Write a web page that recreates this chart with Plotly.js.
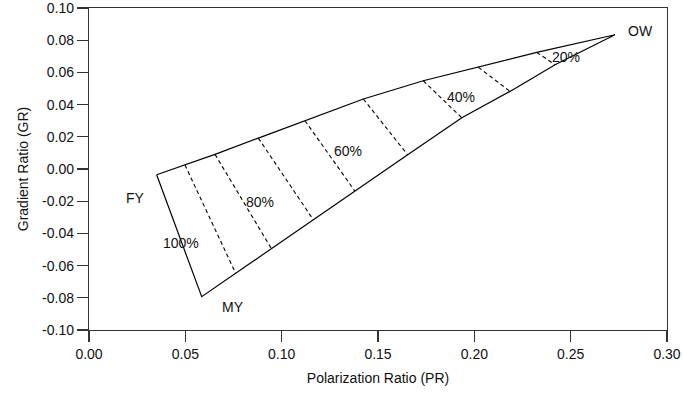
<!DOCTYPE html>
<html>
<head>
<meta charset="utf-8">
<script src="https://cdn.plot.ly/plotly-3.0.1.min.js"></script>
<style>html,body{margin:0;padding:0;background:#fff;}#chart{width:683px;height:396px;}</style>
</head>
<body>
<div id="chart"></div>
<script>
// Vertices
const vertexNames = ['FY', 'MY', 'OW'];
const vertexX = [0.0351, 0.0585, 0.2730];
const vertexY = [-0.0036, -0.0793, 0.0834];

// Mixing lines (90% .. 20%): upper and lower end points
const mixPct = [90, 80, 70, 60, 50, 40, 30, 20];
const mixTopX = [0.0498, 0.0654, 0.0879, 0.1121, 0.1424, 0.1735, 0.2021, 0.2324];
const mixTopY = [0.0025, 0.0091, 0.0192, 0.0300, 0.0435, 0.0548, 0.0632, 0.0724];
const mixBotX = [0.0761, 0.0946, 0.1164, 0.1380, 0.1654, 0.1935, 0.2185, 0.2419];
const mixBotY = [-0.0647, -0.0493, -0.0315, -0.0137, 0.0088, 0.0318, 0.0482, 0.0648];

// Text labels
const labelText = ['FY', 'MY', 'OW', '100%', '80%', '60%', '40%', '20%'];
const labelX = [0.0239, 0.0747, 0.2862, 0.0477, 0.0888, 0.1344, 0.1930, 0.2476];
const labelY = [-0.0181, -0.0855, 0.0855, -0.0457, -0.0202, 0.0109, 0.0447, 0.0696];

// Axis ticks
const xTickVals = [0, 0.05, 0.10, 0.15, 0.20, 0.25, 0.30];
const xTickText = ['0.00', '0.05', '0.10', '0.15', '0.20', '0.25', '0.30'];
const yTickVals = [-0.10, -0.08, -0.06, -0.04, -0.02, 0, 0.02, 0.04, 0.06, 0.08, 0.10];
const yTickText = ['-0.10', '-0.08', '-0.06', '-0.04', '-0.02', '0.00', '0.02', '0.04', '0.06', '0.08', '0.10'];

// Boundary: FY -> upper edge -> OW -> lower edge -> MY -> FY
const bx = [vertexX[0]].concat(mixTopX, [vertexX[2]], mixBotX.slice().reverse(), [vertexX[1], vertexX[0]]);
const by = [vertexY[0]].concat(mixTopY, [vertexY[2]], mixBotY.slice().reverse(), [vertexY[1], vertexY[0]]);

const traces = [{
  x: bx, y: by, mode: 'lines', type: 'scatter',
  line: {color: '#000', width: 1.2}, hoverinfo: 'skip', showlegend: false
}];
for (let i = 0; i < mixPct.length; i++) {
  traces.push({
    x: [mixTopX[i], mixBotX[i]], y: [mixTopY[i], mixBotY[i]],
    mode: 'lines', type: 'scatter', name: mixPct[i] + '%',
    line: {color: '#000', width: 1.1, dash: '4px,3px'}, showlegend: false
  });
}

const fam = '"Liberation Sans", Arial, Helvetica, sans-serif';
const font = {family: fam, size: 14, color: '#111'};
const annotations = labelText.map((t, i) => ({
  x: labelX[i], y: labelY[i], xref: 'x', yref: 'y', text: t, showarrow: false,
  font: {family: fam, size: 14, color: '#111'}
}));

const axisCommon = {
  showgrid: false, zeroline: false, showline: true, mirror: true,
  linecolor: '#333', linewidth: 1.2, ticks: 'outside', ticklen: 11,
  tickcolor: '#333', tickwidth: 1.2, tickfont: font, ticklabeloverflow: 'allow'
};

const layout = {
  width: 683, height: 396,
  margin: {l: 89, r: 16, t: 8, b: 66},
  paper_bgcolor: '#fff', plot_bgcolor: '#fff',
  font: font,
  xaxis: Object.assign({}, axisCommon, {
    range: [0, 0.30], tickvals: xTickVals, ticktext: xTickText,
    title: {text: 'Polarization Ratio (PR)', font: font, standoff: 12}
  }),
  yaxis: Object.assign({}, axisCommon, {
    range: [-0.10, 0.10], tickvals: yTickVals, ticktext: yTickText,
    title: {text: 'Gradient Ratio (GR)', font: font, standoff: 10}
  }),
  annotations: annotations,
  showlegend: false
};

Plotly.newPlot('chart', traces, layout, {displayModeBar: false, staticPlot: true});
</script>
</body>
</html>
